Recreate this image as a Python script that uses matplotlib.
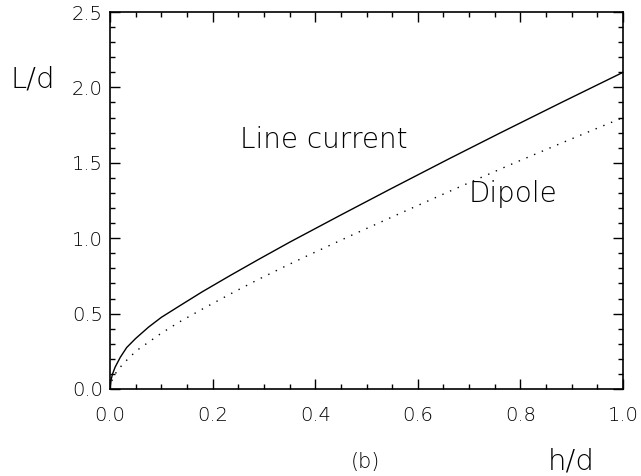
import matplotlib
matplotlib.use("Agg")
import matplotlib.pyplot as plt
from matplotlib.ticker import MultipleLocator

plt.rcParams["font.family"] = "DejaVu Sans"
plt.rcParams["font.weight"] = "light"

# values
h_line = [0.0, 0.002, 0.005, 0.01, 0.02, 0.0325, 0.05, 0.075, 0.1, 0.136,
          0.18, 0.234, 0.29, 0.351, 0.45, 0.546, 0.66, 0.76, 0.88, 1.0]
L_line = [0.0, 0.06, 0.10, 0.145, 0.21, 0.275, 0.335, 0.41, 0.475, 0.552,
          0.645, 0.752, 0.860, 0.975, 1.154, 1.325, 1.525, 1.697, 1.90, 2.10]

h_dip = [0.0, 0.003, 0.01, 0.02, 0.035, 0.052, 0.075, 0.1, 0.136, 0.18,
         0.24, 0.29, 0.344, 0.383, 0.47, 0.565, 0.67, 0.78, 0.89, 1.0]
L_dip = [0.0, 0.05, 0.10, 0.145, 0.20, 0.255, 0.31, 0.37, 0.446, 0.53,
         0.64, 0.728, 0.818, 0.881, 1.018, 1.164, 1.323, 1.487, 1.645, 1.80]

fig = plt.figure(figsize=(6.41, 4.76), dpi=100)
ax = fig.add_axes([110/641, 1 - 389/476, 513/641, 377/476])

ax.plot(h_line, L_line, color="black", lw=1.0)
ax.plot(h_dip, L_dip, color="black", lw=1.0, linestyle=(0, (1, 5)))

ax.set_xlim(0, 1.0)
ax.set_ylim(0, 2.5)
ax.xaxis.set_major_locator(MultipleLocator(0.2))
ax.xaxis.set_minor_locator(MultipleLocator(0.05))
ax.yaxis.set_major_locator(MultipleLocator(0.5))
ax.yaxis.set_minor_locator(MultipleLocator(0.1))
ax.xaxis.set_major_formatter(plt.FormatStrFormatter("%.1f"))
ax.yaxis.set_major_formatter(plt.FormatStrFormatter("%.1f"))
ax.tick_params(which="both", direction="in", top=True, right=True, width=1.0)
ax.tick_params(which="major", length=7)
ax.tick_params(which="minor", length=3.5)
ax.tick_params(axis="x", which="major", pad=12, labelsize=14)
ax.tick_params(axis="y", which="major", pad=5, labelsize=14)
for s in ax.spines.values():
    s.set_linewidth(1.2)

ax.text(0.253, 1.60, "Line current", fontsize=20, ha="left", va="baseline")
ax.text(0.70, 1.24, "Dipole", fontsize=20, ha="left", va="baseline")

fig.text(10/641, 1 - 87/476, "L/d", fontsize=21, ha="left", va="baseline")
fig.text(548/641, 1 - 470/476, "h/d", fontsize=21, ha="left", va="baseline")
fig.text(365/641, 1 - 468/476, "(b)", fontsize=15, ha="center", va="baseline")

fig.savefig("out.png", dpi=100)
